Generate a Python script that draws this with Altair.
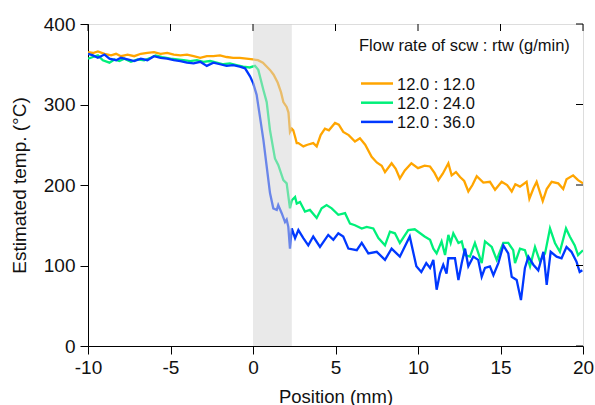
import altair as alt
import pandas as pd

FONT = "Liberation Sans"

series_names = ["12.0 : 12.0", "12.0 : 24.0", "12.0 : 36.0"]
series_colors = ["#ffa500", "#00f07a", "#0038ff"]

x_orange = [-10, -9.7, -9.4, -9.0, -8.6, -8.3, -8.0, -7.6, -7.2, -6.8,
            -6.4, -6.0, -5.6, -5.2, -4.8, -4.4, -4.0, -3.6, -3.2, -2.8,
            -2.4, -2.0, -1.6, -1.2, -0.8, -0.4, 0.0, 0.3, 0.6, 1.03,
            1.25, 1.5, 1.7, 1.84, 2.04, 2.15, 2.24, 2.35, 2.44, 2.55,
            2.65, 2.75, 3.05, 3.3, 3.65, 3.86, 4.1, 4.36, 4.6, 4.97,
            5.2, 5.47, 5.8, 6.18, 6.48, 6.8, 7.19, 7.5, 7.8, 8.0,
            8.4, 8.65, 8.9, 9.2, 9.6, 10.0, 10.4, 10.73, 11.0, 11.23,
            11.5, 11.84, 12.04, 12.3, 12.55, 12.8, 13.05, 13.3, 13.56, 13.96,
            14.36, 14.67, 15.07, 15.4, 15.68, 15.9, 16.18, 16.58, 16.75, 17.0,
            17.19, 17.56, 17.8, 18.1, 18.5, 18.8, 19.0, 19.4, 19.7, 20.0]
t_orange = [365, 364, 366, 363, 361, 363, 360, 362, 360, 363,
            364, 365, 363, 364, 362, 361, 362, 360, 358, 360,
            360, 361, 359, 358, 358, 357, 356, 355, 352, 343,
            337, 327, 315, 303, 297, 290, 266, 270, 268, 260,
            252, 252, 248, 250, 252, 248, 262, 270, 268, 277,
            275, 266, 262, 254, 258, 250, 235, 228, 224, 216,
            227, 220, 208, 218, 227, 221, 224, 223, 215, 206,
            214, 227, 212, 216, 210, 205, 192, 200, 211, 203,
            204, 194, 204, 200, 192, 201, 198, 204, 183, 196,
            204, 180, 195, 204, 202, 195, 207, 212, 206, 202]

x_green = [-10, -9.7, -9.4, -9.1, -8.7, -8.4, -8.1, -7.8, -7.4, -7.0,
           -6.6, -6.2, -5.9, -5.5, -5.0, -4.6, -4.2, -3.8, -3.4, -3.0,
           -2.6, -2.2, -1.8, -1.4, -1.0, -0.6, -0.2, 0.12, 0.32, 0.63,
           0.83, 1.03, 1.33, 1.53, 1.84, 2.04, 2.24, 2.35, 2.55, 2.65,
           2.85, 3.15, 3.45, 3.86, 4.16, 4.46, 4.77, 5.17, 5.58, 5.88,
           6.18, 6.59, 6.89, 7.29, 7.6, 8.0, 8.3, 8.6, 8.9, 9.41,
           9.8, 10.4, 10.73, 10.93, 11.13, 11.43, 11.64, 11.84, 11.98, 12.14,
           12.45, 12.65, 12.85, 13.15, 13.45, 13.86, 14.06, 14.47, 14.77, 15.17,
           15.47, 15.77, 15.88, 16.18, 16.48, 16.79, 17.09, 17.39, 17.7, 18.0,
           18.3, 18.6, 18.97, 19.2, 19.5, 19.7, 20.0]
t_green = [357, 359, 361, 355, 352, 356, 354, 357, 353, 356,
           355, 358, 361, 359, 357, 356, 355, 354, 355, 353,
           354, 352, 350, 351, 349, 347, 346, 348, 343, 318,
           303, 268, 233, 225, 206, 202, 171, 181, 185, 177,
           179, 167, 169, 159, 171, 175, 171, 163, 165, 152,
           150, 146, 148, 146, 134, 125, 142, 140, 128, 144,
           145, 136, 132, 121, 115, 130, 113, 138, 128, 140,
           128, 130, 113, 111, 128, 103, 130, 123, 107, 128,
           128, 119, 103, 121, 119, 99, 123, 105, 115, 146,
           128, 117, 146, 136, 125, 113, 119]

x_blue = [-10, -9.7, -9.4, -9.0, -8.7, -8.3, -8.0, -7.6, -7.2, -6.8,
          -6.4, -6.0, -5.6, -5.2, -4.8, -4.4, -4.0, -3.6, -3.2, -2.8,
          -2.4, -2.0, -1.6, -1.2, -0.8, -0.48, -0.18, 0.02, 0.22, 0.42,
          0.63, 0.83, 1.03, 1.23, 1.44, 1.53, 1.74, 1.94, 2.04, 2.14,
          2.24, 2.35, 2.55, 2.75, 3.05, 3.35, 3.65, 4.06, 4.56, 4.87,
          5.17, 5.47, 5.78, 6.29, 6.59, 6.99, 7.5, 8.0, 8.4, 8.9,
          9.5, 9.9, 10.2, 10.5, 10.73, 10.93, 11.13, 11.33, 11.53, 11.73,
          11.84, 12.24, 12.45, 12.65, 12.85, 13.05, 13.35, 13.65, 13.86, 14.06,
          14.36, 14.57, 14.87, 15.17, 15.47, 15.68, 15.98, 16.24, 16.48, 16.69,
          16.99, 17.29, 17.6, 17.8, 18.04, 18.4, 18.7, 19.0, 19.3, 19.6,
          19.8, 19.96]
t_blue = [363, 361, 358, 362, 357, 355, 358, 356, 354, 357,
          355, 360, 358, 357, 355, 354, 352, 351, 353, 348,
          352, 350, 348, 349, 347, 345, 335, 326, 312, 285,
          256, 223, 190, 171, 169, 175, 165, 154, 157, 148,
          121, 146, 134, 144, 134, 125, 136, 123, 138, 132,
          140, 136, 121, 119, 128, 115, 117, 107, 121, 111,
          136, 99, 92, 103, 97, 107, 70, 90, 101, 90,
          109, 109, 82, 103, 121, 99, 111, 107, 86, 97,
          99, 88, 103, 125, 115, 86, 82, 57, 97, 111,
          101, 94, 117, 76, 117, 111, 109, 123, 117, 105,
          92, 94]

band_start = [0.0]
band_end = [2.35]
x_ticks = [-10, -5, 0, 5, 10, 15, 20]
y_ticks = [0, 100, 200, 300, 400]

legend_title = "Flow rate of scw : rtw (g/min)"
x_title = "Position (mm)"
y_title = "Estimated temp. (°C)"

W, H = 495, 322

frames = []
for name, xs, ts in [(series_names[0], x_orange, t_orange),
                     (series_names[1], x_green, t_green),
                     (series_names[2], x_blue, t_blue)]:
    frames.append(pd.DataFrame({"pos": xs, "temp": ts, "series": name}))
df = pd.concat(frames, ignore_index=True)

xscale = alt.Scale(domain=[-10, 20], nice=False, zero=False)
yscale = alt.Scale(domain=[0, 400], nice=False)
cscale = alt.Scale(domain=series_names, range=series_colors)

xaxis = alt.Axis(values=x_ticks, title=x_title, grid=False, tickSize=8,
                 labelPadding=4, titlePadding=10, labelFontSize=19, titleFontSize=18.5,
                 labelFont=FONT, titleFont=FONT, labelColor="#111", titleColor="#111",
                 titleFontWeight="normal", domainColor="#000", tickColor="#000",
                 labelFlush=False, labelExpr="'' + datum.value")
yaxis = alt.Axis(values=y_ticks, title=y_title, grid=False, tickSize=8,
                 labelPadding=5, titlePadding=14, labelFontSize=19, titleFontSize=19,
                 labelFont=FONT, titleFont=FONT, labelColor="#111", titleColor="#111",
                 titleFontWeight="normal", domainColor="#000", tickColor="#000",
                 labelFlush=False, labelExpr="'' + datum.value")

lines = alt.Chart(df).mark_line(strokeWidth=2.3, clip=True).encode(
    x=alt.X("pos:Q", scale=xscale, axis=xaxis),
    y=alt.Y("temp:Q", scale=yscale, axis=yaxis),
    color=alt.Color("series:N", scale=cscale, legend=None),
    order=alt.Order("pos:Q"),
)

band_df = pd.DataFrame({"x0": band_start, "x1": band_end, "y0": [0], "y1": [400]})
band = alt.Chart(band_df).mark_rect(fill="#d4d4d4", opacity=0.5).encode(
    x=alt.X("x0:Q", scale=xscale), x2="x1:Q",
    y=alt.Y("y0:Q", scale=yscale), y2="y1:Q",
)

top_ticks = alt.Chart(pd.DataFrame({"v": x_ticks})).mark_rule(color="#000", strokeWidth=1).encode(
    x=alt.X("v:Q", scale=xscale), y=alt.value(0), y2=alt.value(7))
right_ticks = alt.Chart(pd.DataFrame({"v": y_ticks})).mark_rule(color="#000", strokeWidth=1).encode(
    y=alt.Y("v:Q", scale=yscale), x=alt.value(W - 7), x2=alt.value(W))

leg_layers = []
leg_layers.append(
    alt.Chart(pd.DataFrame({"t": [legend_title]})).mark_text(
        align="left", baseline="alphabetic", font=FONT, fontSize=16.5, color="#111"
    ).encode(text="t:N", x=alt.value(271), y=alt.value(27))
)
for i, (name, col) in enumerate(zip(series_names, series_colors)):
    yy = 59.5 + 19.2 * i
    d = pd.DataFrame({"t": [name]})
    leg_layers.append(
        alt.Chart(d).mark_rule(color=col, strokeWidth=2.5).encode(
            x=alt.value(273), x2=alt.value(305), y=alt.value(yy))
    )
    leg_layers.append(
        alt.Chart(d).mark_text(align="left", baseline="middle", font=FONT,
                               fontSize=16.5, color="#111", dy=1).encode(
            text="t:N", x=alt.value(309), y=alt.value(yy))
    )

chart = alt.layer(lines, band, top_ticks, right_ticks, *leg_layers).properties(
    width=W, height=H,
    autosize=alt.AutoSizeParams(type="none"),
    padding={"left": 88, "top": 24, "right": 12, "bottom": 59},
).configure_view(stroke="#222", strokeWidth=1.5).configure(background="white")

chart.save("out.html", embed_options={"renderer": "svg", "actions": False})
